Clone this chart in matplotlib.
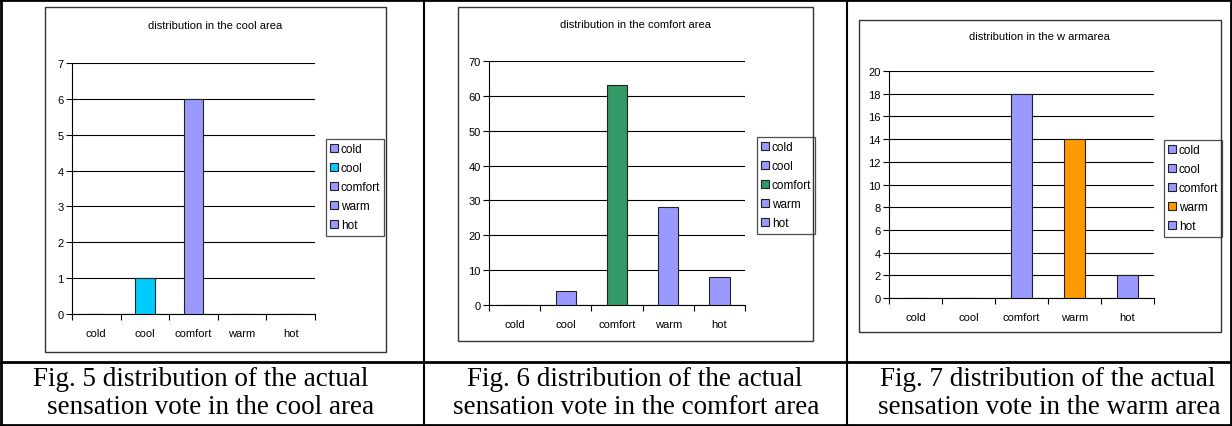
import matplotlib
matplotlib.use("Agg")
import matplotlib.pyplot as plt
from matplotlib.lines import Line2D
from matplotlib.patches import Patch, Rectangle

# dados
categorias = ["cold", "cool", "comfort", "warm", "hot"]
votos_area_fria = [0, 1, 6, 0, 0]
votos_area_conforto = [0, 4, 63, 28, 8]
votos_area_quente = [0, 0, 18, 14, 2]

titulos = [
    "distribution in the cool area",
    "distribution in the comfort area",
    "distribution in the w armarea",
]
legendas = [
    ["Fig. 5 distribution of the actual", "sensation vote in the cool area"],
    ["Fig. 6 distribution of the actual", "sensation vote in the comfort area"],
    ["Fig. 7 distribution of the actual", "sensation vote in the warm area"],
]
ymax = [7, 70, 20]
ypasso = [1, 10, 2]

LILAS = "#9999ff"
cores = [
    [LILAS, "#00ccff", LILAS, LILAS, LILAS],
    [LILAS, LILAS, "#339966", LILAS, LILAS],
    [LILAS, LILAS, LILAS, "#ff9900", LILAS],
]

W, H = 1232, 427
plt.rcParams["font.family"] = ["Liberation Sans", "DejaVu Sans"]


def fx(x):
    return x / W


def fy(y):
    return 1 - y / H


def retangulo(fig, x0, y0, x1, y1, cor="#333333", lw=1.0):
    fig.patches.append(Rectangle((fx(x0), fy(y1)), (x1 - x0) / W, (y1 - y0) / H,
                                 transform=fig.transFigure, fill=False,
                                 edgecolor=cor, lw=lw))


def linha(fig, x0, y0, x1, y1, lw=1.5):
    fig.lines.append(Line2D([fx(x0), fx(x1)], [fy(y0), fy(y1)],
                            transform=fig.transFigure, color="black", lw=lw))


fig = plt.figure(figsize=(W / 100, H / 100), dpi=100)

# caixa do grafico, area de plotagem, titulo, legenda (em pixels)
paineis = [
    dict(caixa=(45, 8, 386, 353), area=(72, 64, 315, 315), titulo=(215, 26), leg=(326, 140)),
    dict(caixa=(458, 8, 813, 342), area=(489, 62, 745, 306), titulo=(635, 25), leg=(757, 138)),
    dict(caixa=(859, 21, 1221, 333), area=(889, 72, 1154, 299), titulo=(1039, 37), leg=(1164, 141)),
]
dados = [votos_area_fria, votos_area_conforto, votos_area_quente]

for i, p in enumerate(paineis):
    retangulo(fig, *p["caixa"])
    x0, y0, x1, y1 = p["area"]
    ax = fig.add_axes([fx(x0), fy(y1), (x1 - x0) / W, (y1 - y0) / H])
    pos = range(len(categorias))
    ax.bar(pos, dados[i], width=0.4, color=cores[i], edgecolor="#222222", linewidth=0.8, zorder=3)
    ax.set_xlim(-0.5, len(categorias) - 0.5)
    ax.set_ylim(0, ymax[i])
    ax.set_yticks(range(0, ymax[i] + 1, ypasso[i]))
    ax.yaxis.grid(True, color="black", linewidth=0.8)
    ax.set_axisbelow(True)
    ax.set_xticks(list(pos))
    ax.set_xticklabels(categorias)
    ax.set_xticks([k - 0.5 for k in range(len(categorias) + 1)], minor=True)
    ax.tick_params(axis="x", which="major", length=0, pad=10, labelsize=8)
    ax.tick_params(axis="x", which="minor", length=4, width=0.8, direction="out")
    ax.tick_params(axis="y", length=4, width=0.8, labelsize=8, pad=2)
    for lado in ["top", "right"]:
        ax.spines[lado].set_visible(False)
    ax.spines["left"].set_linewidth(0.8)
    ax.spines["bottom"].set_linewidth(0.8)
    ax.patch.set_alpha(0)

    tx, ty = p["titulo"]
    fig.text(fx(tx), fy(ty), titulos[i], fontsize=8, ha="center", va="center")

    handles = [Patch(facecolor=c, edgecolor="#222222", linewidth=0.8) for c in cores[i]]
    lx, ly = p["leg"]
    leg = ax.legend(handles, categorias, loc="upper left", bbox_to_anchor=(fx(lx), fy(ly)),
                    bbox_transform=fig.transFigure, fontsize=8.5, frameon=True,
                    fancybox=False, borderaxespad=0, borderpad=0.35, labelspacing=0.6,
                    handlelength=0.65, handleheight=0.65, handletextpad=0.25)
    leg.get_frame().set_edgecolor("#222222")
    leg.get_frame().set_linewidth(0.9)

# moldura da tabela
linha(fig, 1, 1, 1231, 1, lw=2)
linha(fig, 1, 426, 1231, 426, lw=2)
linha(fig, 1, 1, 1, 426, lw=2)
linha(fig, 1231, 1, 1231, 426, lw=2)
linha(fig, 1, 363, 1231, 363, lw=2)
linha(fig, 424, 1, 424, 426, lw=1.5)
linha(fig, 847, 1, 847, 426, lw=1.5)

centros = [(201, 211), (635, 636), (1048, 1049)]
for (c1, c2), (l1, l2) in zip(centros, legendas):
    fig.text(fx(c1), fy(380), l1, fontsize=19.5, ha="center", va="center", family="Liberation Serif")
    fig.text(fx(c2), fy(408), l2, fontsize=19.5, ha="center", va="center", family="Liberation Serif")

fig.savefig("out.png", dpi=100)
plt.close(fig)
